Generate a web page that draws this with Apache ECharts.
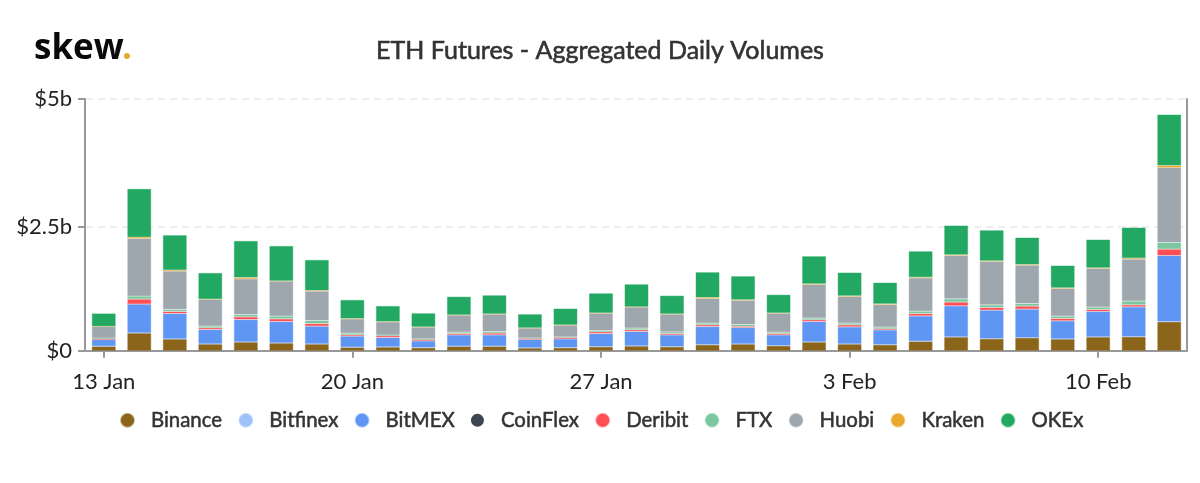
<!DOCTYPE html>
<html><head><meta charset="utf-8">
<style>html,body{margin:0;padding:0;background:#fff}#c{width:1200px;height:483px}</style>
<script src="https://cdn.jsdelivr.net/npm/echarts@6/dist/echarts.min.js"></script>
</head><body><div id="c"></div>
<script>
const categories=["13 Jan","14 Jan","15 Jan","16 Jan","17 Jan","18 Jan","19 Jan","20 Jan","21 Jan","22 Jan","23 Jan","24 Jan","25 Jan","26 Jan","27 Jan","28 Jan","29 Jan","30 Jan","31 Jan","1 Feb","2 Feb","3 Feb","4 Feb","5 Feb","6 Feb","7 Feb","8 Feb","9 Feb","10 Feb","11 Feb","12 Feb"];
const binance=[.086,.351,.232,.132,.172,.152,.132,.066,.073,.060,.086,.086,.053,.060,.079,.093,.079,.119,.132,.099,.172,.132,.119,.185,.272,.238,.258,.232,.272,.278,.576];
const bitfinex=[.003,.003,.003,.003,.003,.003,.003,.003,.003,.003,.003,.003,.003,.003,.003,.003,.003,.003,.003,.003,.003,.003,.003,.003,.003,.003,.003,.003,.003,.003,.003];
const bitmex=[.132,.570,.503,.285,.444,.424,.351,.219,.185,.132,.225,.225,.166,.172,.258,.285,.232,.358,.325,.212,.404,.338,.291,.503,.616,.563,.563,.358,.503,.589,1.311];
const coinflex=[.001,.001,.001,.001,.001,.001,.001,.001,.001,.001,.001,.001,.001,.001,.001,.001,.001,.001,.001,.001,.001,.001,.001,.001,.001,.001,.001,.001,.001,.001,.001];
const deribit=[.013,.099,.040,.033,.053,.053,.053,.026,.033,.026,.026,.033,.020,.026,.033,.033,.026,.033,.020,.026,.033,.040,.020,.046,.073,.053,.060,.046,.040,.040,.126];
const ftx=[.013,.060,.040,.033,.046,.053,.060,.033,.013,.013,.026,.033,.013,.013,.026,.033,.033,.033,.040,.026,.033,.033,.033,.046,.066,.053,.053,.046,.046,.073,.132];
const huobi=[.232,1.146,.762,.530,.709,.695,.583,.285,.265,.232,.338,.344,.192,.232,.344,.417,.351,.490,.477,.377,.669,.530,.450,.662,.861,.861,.762,.550,.768,.834,1.490];
const kraken=[.003,.026,.020,.006,.026,.006,.013,.006,.006,.006,.006,.006,.006,.006,.006,.006,.006,.020,.013,.006,.013,.013,.013,.013,.013,.013,.013,.013,.013,.020,.040];
const okex=[.258,.960,.695,.523,.728,.695,.609,.371,.311,.272,.364,.371,.272,.325,.391,.450,.364,.503,.470,.364,.550,.464,.424,.517,.583,.609,.536,.444,.563,.609,1.013];
const names=["Binance","Bitfinex","BitMEX","CoinFlex","Deribit","FTX","Huobi","Kraken","OKEx"];
const colors=["#8B651A","#9DC1F8","#5F96F3","#3C4650","#FF4F55","#7BC8A0","#9EA6AE","#E9A82E","#22A863"];
const seriesValues=[binance,bitfinex,bitmex,coinflex,deribit,ftx,huobi,kraken,okex];
const thinSeries=["Bitfinex","Kraken"];
const yTickValues=[0,2.463,5];
const yTickLabels=["$0","$2.5b","$5b"];
const font="Lato";
const chart=echarts.init(document.getElementById('c'),null,{renderer:'canvas'});
chart.setOption({
 animation:false,
 color:colors,
 title:{text:"ETH Futures - Aggregated Daily Volumes",left:595,textAlign:'center',top:33,textStyle:{fontFamily:font,fontSize:25,fontWeight:400,color:'#333',textBorderColor:'#333',textBorderWidth:0.6}},
 graphic:[
  {type:'text',left:34,top:32,style:{text:'skew',fontFamily:'"Open Sans"',fontSize:35,fontWeight:700,fill:'#0a0a0a'}},
  {type:'text',left:122,top:32,style:{text:'.',fontFamily:'"Open Sans"',fontSize:35,fontWeight:700,fill:'#E9A82E'}}
 ],
 legend:{data:names,icon:'circle',itemWidth:13,itemHeight:13,itemGap:16,left:115,top:405,
  textStyle:{fontFamily:font,fontSize:20.4,fontWeight:400,color:'#333',textBorderColor:'#333',textBorderWidth:0.5,padding:[0,0,0,12]}},
 grid:{left:86,right:13,top:99,bottom:132.3,containLabel:false},
 xAxis:{type:'category',data:categories,
  axisLine:{onZero:false,lineStyle:{color:'#999',width:2}},
  axisTick:{show:true,alignWithLabel:true,interval:6,length:7,lineStyle:{color:'#999',width:2}},
  axisLabel:{interval:6,fontFamily:font,fontSize:22,color:'#222',margin:20},
  splitLine:{show:false}},
 yAxis:[{type:'value',min:0,max:5,offset:1,
  axisLine:{show:true,onZero:false,lineStyle:{color:'#999',width:2}},
  axisTick:{show:true,length:7,customValues:yTickValues,lineStyle:{color:'#999',width:2}},
  axisLabel:{customValues:yTickValues,fontFamily:font,fontSize:22,color:'#222',margin:13,
    formatter:v=>yTickLabels[yTickValues.indexOf(v)]},
  splitLine:{show:true,lineStyle:{color:'#eee',width:2,type:[7,5]}}},
  {type:'value',min:0,max:5,position:'right',
   axisLine:{show:true,onZero:false,lineStyle:{color:'#999',width:2}},
   axisTick:{show:false},axisLabel:{show:false},splitLine:{show:false}}],
 series:names.map((n,i)=>({name:n,type:'bar',stack:'v',barWidth:24,data:seriesValues[i],
   itemStyle:{color:colors[i],borderColor:colors[i]+'70',borderWidth:n==='CoinFlex'?0:(thinSeries.includes(n)?0.5:1)}}))
});
</script></body></html>
